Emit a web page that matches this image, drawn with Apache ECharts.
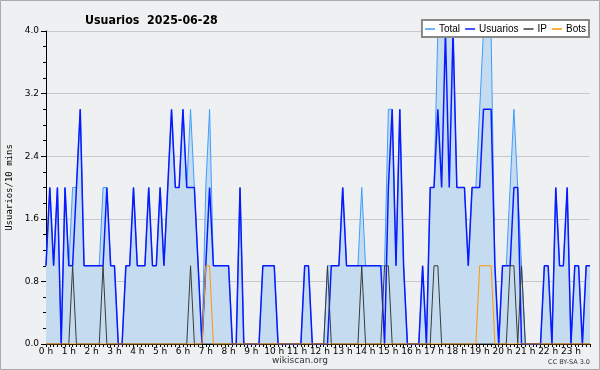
<!DOCTYPE html>
<html>
<head>
<meta charset="utf-8">
<script src="https://cdn.jsdelivr.net/npm/echarts@6/dist/echarts.min.js"></script>
<style>html,body{margin:0;padding:0;background:#eff0f1;}#c{width:600px;height:370px;}</style>
</head>
<body>
<div id="c"></div>
<script>
// Tick labels (hours)
var hourLabels = ['0 h','1 h','2 h','3 h','4 h','5 h','6 h','7 h','8 h','9 h','10 h','11 h','12 h','13 h','14 h','15 h','16 h','17 h','18 h','19 h','20 h','21 h','22 h','23 h'];
var minuteSlots = ['00','10','20','30','40','50'];
var yTicks = [0, 0.8, 1.6, 2.4, 3.2, 4.0];

// Series values, one per 10 minutes (144 slots)
var total = [
  1,2,1,2,0,2,1,2,2,3,1,1,
  1,1,1,2,2,1,1,0,0,1,1,2,
  1,1,1,2,1,1,2,1,2,3,2,2,
  3,2,3,2,1,0,2,3,1,1,1,1,
  1,0,0,2,0,0,0,0,0,1,1,1,
  1,0,0,0,0,0,0,0,1,1,0,0,
  0,0,1,1,1,1,2,1,1,1,1,2,
  1,1,1,1,1,1,3,3,1,3,1,0,
  0,0,0,1,0,2,2,4,4,4,4,4,
  2,2,2,1,2,2,3,4,4,4,1,0,
  1,1,2,3,2,1,0,0,0,0,0,1,
  1,0,2,1,1,2,0,1,1,0,1,1
];
var usuarios = [
  1,2,1,2,0,2,1,1,2,3,1,1,
  1,1,1,1,2,1,1,0,0,1,1,2,
  1,1,1,2,1,1,2,1,2,3,2,2,
  3,2,2,2,1,0,1,2,1,1,1,1,
  1,0,0,2,0,0,0,0,0,1,1,1,
  1,0,0,0,0,0,0,0,1,1,0,0,
  0,0,0,1,1,1,2,1,1,1,1,1,
  1,1,1,1,1,0,2,3,1,3,1,0,
  0,0,0,1,0,2,2,3,2,4,2,4,
  2,2,2,1,2,2,2,3,3,3,1,0,
  1,1,1,2,2,0,0,0,0,0,0,1,
  1,0,2,1,1,2,0,1,1,0,1,1
];
var ip = [
  0,0,0,0,0,0,0,1,0,0,0,0,
  0,0,0,1,0,0,0,0,0,0,0,0,
  0,0,0,0,0,0,0,0,0,0,0,0,
  0,0,1,0,0,0,0,0,0,0,0,0,
  0,0,0,0,0,0,0,0,0,0,0,0,
  0,0,0,0,0,0,0,0,0,0,0,0,
  0,0,1,0,0,0,0,0,0,0,0,1,
  0,0,0,0,0,1,1,0,0,0,0,0,
  0,0,0,0,0,0,1,1,0,0,0,0,
  0,0,0,0,0,0,0,0,0,0,0,0,
  0,0,1,1,0,1,0,0,0,0,0,0,
  0,0,0,0,0,0,0,0,0,0,0,0
];
var bots = [
  0,0,0,0,0,0,0,0,0,0,0,0,
  0,0,0,0,0,0,0,0,0,0,0,0,
  0,0,0,0,0,0,0,0,0,0,0,0,
  0,0,0,0,0,0,1,1,0,0,0,0,
  0,0,0,0,0,0,0,0,0,0,0,0,
  0,0,0,0,0,0,0,0,0,0,0,0,
  0,0,0,0,0,0,0,0,0,0,0,0,
  0,0,0,0,0,0,0,0,0,0,0,0,
  0,0,0,0,0,0,0,0,0,0,0,0,
  0,0,0,0,0,0,1,1,1,1,0,0,
  0,0,0,0,0,0,0,0,0,0,0,0,
  0,0,0,0,0,0,0,0,0,0,0,0
];

var categories = [];
hourLabels.forEach(function (h, hi) {
  minuteSlots.forEach(function (m) { categories.push(hi + ':' + m); });
});

var chart = echarts.init(document.getElementById('c'), null, {renderer: 'canvas'});
var sans = "'DejaVu Sans', sans-serif";
chart.setOption({
  backgroundColor: '#eff0f1',
  animation: false,
  title: {
    text: 'Usuarios  2025-06-28',
    left: 80, top: 10,
    textStyle: {fontSize: 12.3, fontWeight: 'bold', color: '#000', fontFamily: "'DejaVu Sans Condensed', 'DejaVu Sans', sans-serif"}
  },
  legend: {
    right: 11, top: 20,
    backgroundColor: '#fff',
    borderColor: '#888', borderWidth: 2,
    borderRadius: 0,
    padding: [4, 3, 3, 3],
    itemGap: 5,
    itemWidth: 10, itemHeight: 1.5,
    icon: 'rect',
    textStyle: {fontSize: 10, color: '#000', fontFamily: "'Liberation Sans', sans-serif", padding: [0, 0, 0, -1]},
    data: ['Total', 'Usuarios', 'IP', 'Bots']
  },
  grid: {left: 46, right: 10, top: 31, bottom: 26, containLabel: false, outerBoundsMode: 'none'},
  xAxis: {
    type: 'category',
    boundaryGap: false,
    data: categories,
    axisLine: {lineStyle: {color: '#000', width: 1}},
    axisTick: {interval: 0, length: 3, lineStyle: {color: '#000'}},
    axisLabel: {
      interval: 5, fontSize: 9, color: '#000', margin: 3, fontFamily: sans,
      formatter: function (v) { return hourLabels[parseInt(v.split(':')[0], 10)]; }
    },
    splitLine: {show: false}
  },
  yAxis: {
    type: 'value',
    min: yTicks[0], max: yTicks[yTicks.length - 1], interval: 0.8,
    name: 'Usuarios/10 mins',
    nameLocation: 'middle',
    nameGap: 32,
    nameTextStyle: {fontSize: 9, color: '#000', fontFamily: "'DejaVu Sans Mono', monospace"},
    axisLine: {show: true, lineStyle: {color: '#000', width: 1}},
    axisTick: {show: true, length: 5, lineStyle: {color: '#000'}},
    minorTick: {show: true, splitNumber: 4, length: 3, lineStyle: {color: '#000'}},
    axisLabel: {fontSize: 9, color: '#000', margin: 7, fontFamily: sans, formatter: function (v) { return v.toFixed(1); }},
    splitLine: {show: true, lineStyle: {color: '#c8c8c8', width: 1}}
  },
  series: [
    {name: 'Total', type: 'line', data: total, symbol: 'none', color: '#3d9dff',
     lineStyle: {color: '#3d9dff', width: 1}, areaStyle: {color: '#c5dcf0', opacity: 1}, z: 1},
    {name: 'Usuarios', type: 'line', data: usuarios, symbol: 'none', color: '#0a1aff',
     lineStyle: {color: '#0a1aff', width: 1.5}, z: 2},
    {name: 'IP', type: 'line', data: ip, symbol: 'none', color: '#3a3a3a',
     lineStyle: {color: '#3a3a3a', width: 1}, z: 3},
    {name: 'Bots', type: 'line', data: bots, symbol: 'none', color: '#ff9500',
     lineStyle: {color: '#ff9500', width: 1}, z: 4}
  ],
  graphic: [
    {type: 'rect', shape: {x: 0.5, y: 0.5, width: 599, height: 369}, style: {fill: 'none', stroke: '#aaa', lineWidth: 1}, silent: true},
    {type: 'text', x: 300, y: 361, style: {text: 'wikiscan.org', fontSize: 9, fill: '#333', align: 'center', verticalAlign: 'middle', fontFamily: sans}},
    {type: 'text', x: 590, y: 362, style: {text: 'CC BY-SA 3.0', fontSize: 6.5, fill: '#333', align: 'right', verticalAlign: 'middle', fontFamily: sans}}
  ]
});
</script>
</body>
</html>
